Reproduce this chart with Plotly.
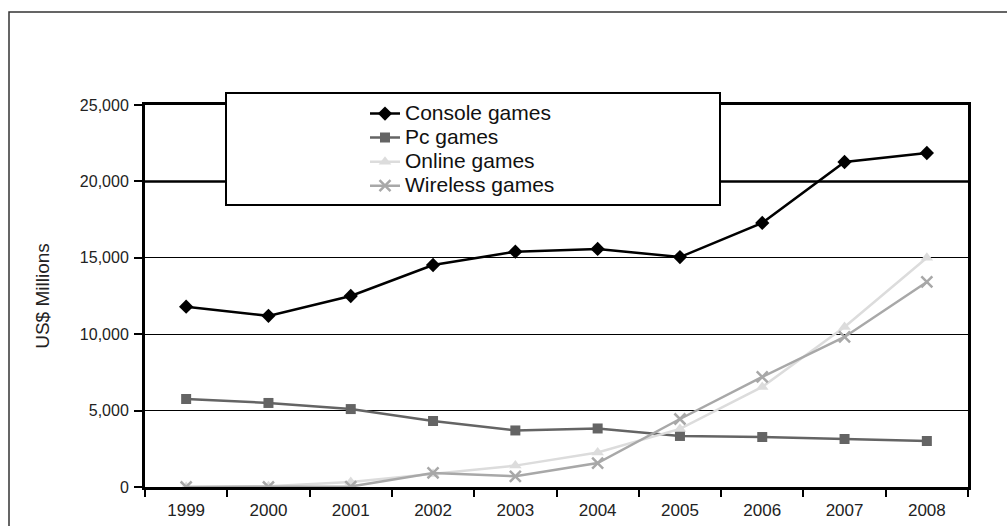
import plotly.graph_objects as go

years = ["1999", "2000", "2001", "2002", "2003", "2004", "2005", "2006", "2007", "2008"]
console = [11800, 11200, 12500, 14530, 15400, 15580, 15050, 17280, 21270, 21860]
pc = [5760, 5500, 5100, 4320, 3700, 3830, 3340, 3270, 3140, 3010]
online = [0, 50, 320, 850, 1400, 2260, 3800, 6550, 10470, 15000]
wireless = [0, 0, 30, 920, 700, 1570, 4450, 7200, 9820, 13420]
y_ticks = [0, 5000, 10000, 15000, 20000, 25000]
names = ["Console games", "Pc games", "Online games", "Wireless games"]

L, R, T, B = 145, 968, 105, 487
W, H = 1007, 526
def px(x):
    return (x - L) / (R - L)
def py(y):
    return (B - y) / (B - T)

def big(s):
    return '<span style="font-size:21px">' + s + '</span>'

fig = go.Figure()
fig.add_trace(go.Scatter(x=years, y=console, name=big(names[0]), mode="lines+markers",
                         line=dict(color="#000000", width=2.5),
                         marker=dict(symbol="diamond", size=11, color="#000000")))
fig.add_trace(go.Scatter(x=years, y=pc, name=big(names[1]), mode="lines+markers",
                         line=dict(color="#646464", width=2.5),
                         marker=dict(symbol="square", size=10, color="#646464")))
fig.add_trace(go.Scatter(x=years, y=online, name=big(names[2]), mode="lines+markers",
                         line=dict(color="#dcdcdc", width=2.5),
                         marker=dict(symbol="triangle-up", size=11, color="#dcdcdc")))
fig.add_trace(go.Scatter(x=years, y=wireless, name=big(names[3]), mode="lines+markers",
                         line=dict(color="#a8a8a8", width=2.5),
                         marker=dict(symbol="x-thin-open", size=11, color="#a8a8a8",
                                     line=dict(color="#a8a8a8", width=2.5))))

shapes = [
    # outer chart frame
    dict(type="rect", xref="paper", yref="paper", x0=px(9), x1=px(1040), y0=py(560), y1=py(12),
         line=dict(color="#333333", width=1.5), fillcolor="rgba(0,0,0,0)", layer="below"),
    # thicker 20,000 gridline
    dict(type="line", xref="paper", yref="y", x0=0, x1=1, y0=y_ticks[4], y1=y_ticks[4],
         line=dict(color="#000000", width=2.5), layer="below"),
    # legend box
    dict(type="rect", xref="paper", yref="paper", x0=px(226), x1=px(720), y0=py(205), y1=py(93),
         line=dict(color="#000000", width=2), fillcolor="#ffffff", layer="above"),
]

fig.update_layout(
    width=W, height=H,
    margin=dict(l=L, r=W - R, t=T, b=H - B, autoexpand=False),
    paper_bgcolor="#ffffff", plot_bgcolor="#ffffff",
    font=dict(family="Liberation Sans, Arial, sans-serif", size=16, color="#222222"),
    showlegend=True,
    legend=dict(x=px(365), y=py(96.5), xanchor="left", yanchor="top",
                bgcolor="rgba(0,0,0,0)", borderwidth=0,
                font=dict(size=16.2, color="#111111"), tracegroupgap=0,
                itemwidth=30),
    shapes=shapes,
    xaxis=dict(type="category", range=[-0.5, 9.5], showgrid=False, automargin=False,
               showline=True, linecolor="#000000", linewidth=3, mirror=True,
               ticks="outside", tickson="boundaries", ticklen=7, tickwidth=1.5,
               tickcolor="#000000", tickfont=dict(size=17), ticklabelstandoff=6),
    yaxis=dict(range=[0, 25000], tickvals=y_ticks, tickformat=",", automargin=False,
               showgrid=True, gridcolor="#000000", gridwidth=1,
               showline=True, linecolor="#000000", linewidth=3, mirror=True,
               ticks="outside", ticklen=8, tickwidth=1.5, tickcolor="#000000",
               zeroline=False, tickfont=dict(size=16), ticklabelstandoff=2,
               title=dict(text="US$ Millions", font=dict(size=19), standoff=26)),
)

fig.write_html("out.html")
